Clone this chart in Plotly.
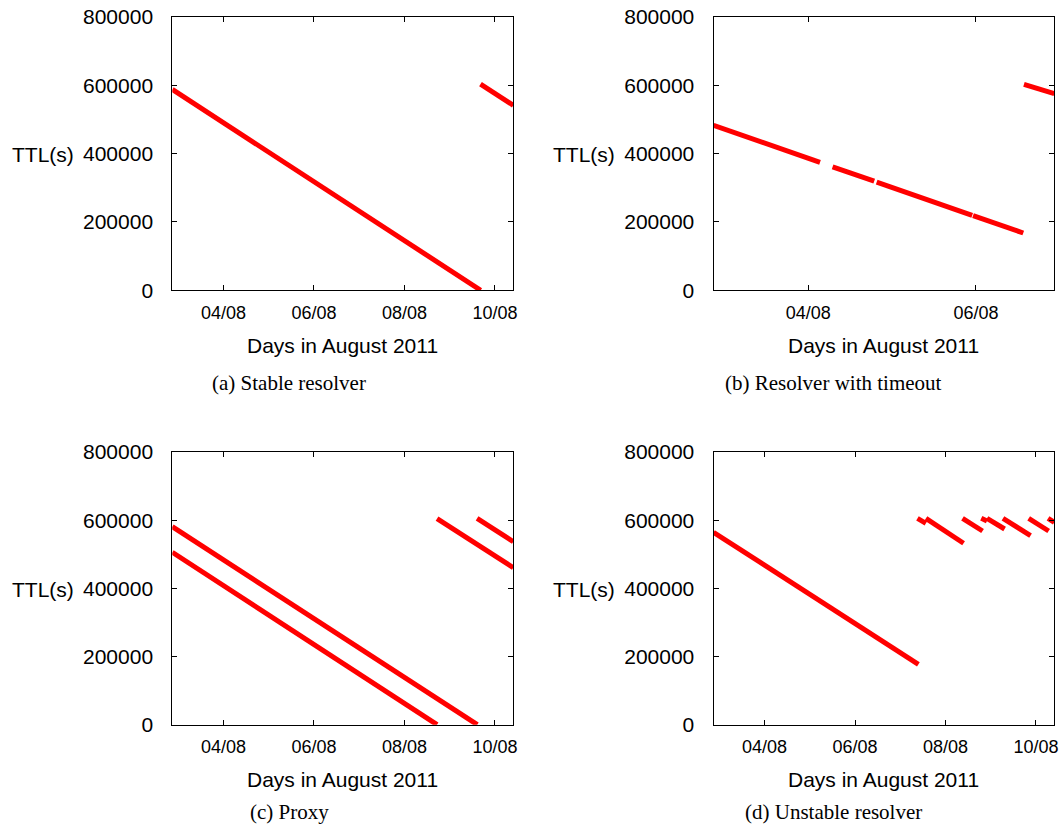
import plotly.graph_objects as go

# ---- data: segments of TTL decay (start time, end time, start TTL, end TTL) ----
a_start_t = ["2011-08-02 20:53", "2011-08-09 16:19"]
a_end_t   = ["2011-08-09 16:26", "2011-08-10 09:43"]
a_start_v = [588000, 603500]
a_end_v   = [0, 541500]

b_start_t = ["2011-08-02 20:53", "2011-08-04 06:58", "2011-08-04 19:35", "2011-08-05 23:10", "2011-08-06 13:44"]
b_end_t   = ["2011-08-04 03:22", "2011-08-04 18:53", "2011-08-05 22:55", "2011-08-06 13:32", "2011-08-06 22:25"]
b_start_v = [483000, 361600, 316800, 218700, 603000]
b_end_v   = [374400, 319300, 219600, 167700, 575700]

c_start_t = ["2011-08-02 20:53", "2011-08-02 20:53", "2011-08-08 17:17", "2011-08-09 14:31"]
c_end_t   = ["2011-08-09 14:38", "2011-08-08 17:17", "2011-08-10 09:43", "2011-08-10 09:43"]
c_start_v = [581000, 505700, 604300, 605500]
c_end_v   = [0, 0, 460600, 536900]

d_start_t = ["2011-08-02 20:53", "2011-08-07 09:07", "2011-08-07 13:35", "2011-08-08 09:01",
             "2011-08-08 18:58", "2011-08-08 22:00", "2011-08-09 06:29", "2011-08-09 20:07",
             "2011-08-10 06:24"]
d_end_t   = ["2011-08-07 09:36", "2011-08-07 13:35", "2011-08-08 09:34", "2011-08-08 19:39",
             "2011-08-08 22:00", "2011-08-09 07:21", "2011-08-09 21:07", "2011-08-10 06:43",
             "2011-08-10 09:43"]
d_start_v = [564400, 605500, 605500, 605500, 605500, 605500, 605500, 605500, 605500]
d_end_v   = [177200, 590800, 532200, 568200, 597500, 574100, 554400, 568200, 593700]

x_ticks_full = ["2011-08-04", "2011-08-06", "2011-08-08", "2011-08-10"]
x_labels_full = ["04/08", "06/08", "08/08", "10/08"]
x_ticks_b = ["2011-08-04", "2011-08-06"]
x_labels_b = ["04/08", "06/08"]
y_ticks = [0, 200000, 400000, 600000, 800000]
y_labels = ["0", "200000", "400000", "600000", "800000"]

range_full = ["2011-08-02 20:53", "2011-08-10 09:43"]
range_b = ["2011-08-02 20:53", "2011-08-06 22:25"]

x_title = "Days in August 2011"
y_title = "TTL(s)"
captions = ["(a) Stable resolver", "(b) Resolver with timeout", "(c) Proxy", "(d) Unstable resolver"]

# ---- layout geometry (pixels) ----
W, H = 1062, 830
panels = [
    dict(st=a_start_t, et=a_end_t, sv=a_start_v, ev=a_end_v, px=(172.3, 513.3), py=(17.0, 290.3),
         rng=range_full, tv=x_ticks_full, tt=x_labels_full),
    dict(st=b_start_t, et=b_end_t, sv=b_start_v, ev=b_end_v, px=(713.5, 1054.3), py=(17.0, 290.3),
         rng=range_b, tv=x_ticks_b, tt=x_labels_b),
    dict(st=c_start_t, et=c_end_t, sv=c_start_v, ev=c_end_v, px=(172.3, 513.3), py=(452.0, 724.7),
         rng=range_full, tv=x_ticks_full, tt=x_labels_full),
    dict(st=d_start_t, et=d_end_t, sv=d_start_v, ev=d_end_v, px=(713.5, 1054.3), py=(452.0, 724.7),
         rng=range_full, tv=x_ticks_full, tt=x_labels_full),
]
cap_pos = [(289, 383), (833, 383), (289, 812), (833, 812)]
ylab_x = [43, 584, 43, 584]

fig = go.Figure()
layout = dict(template="none", width=W, height=H, margin=dict(l=0, r=0, t=0, b=0, pad=0),
              autosize=False, paper_bgcolor="white", plot_bgcolor="white", showlegend=False)
annotations = []
sans = "Liberation Sans, Arial, sans-serif"
serif = "Liberation Serif, Times New Roman, serif"

for i, p in enumerate(panels):
    xs, ys = [], []
    for s, e, v0, v1 in zip(p["st"], p["et"], p["sv"], p["ev"]):
        xs += [s, e, None]
        ys += [v0, v1, None]
    n = "" if i == 0 else str(i + 1)
    fig.add_trace(go.Scatter(x=xs, y=ys, mode="lines", xaxis="x" + n, yaxis="y" + n,
                             line=dict(color="#ff0000", width=5), hoverinfo="skip"))
    xd = [p["px"][0] / W, p["px"][1] / W]
    yd = [1 - p["py"][1] / H, 1 - p["py"][0] / H]
    layout["xaxis" + n] = dict(domain=xd, anchor="y" + n, type="date", range=p["rng"],
                               tickvals=p["tv"], ticktext=p["tt"], ticks="inside", ticklen=5,
                               tickcolor="black", showline=True, linecolor="black", linewidth=1,
                               mirror="ticks", showgrid=False, zeroline=False, automargin=False,
                               tickfont=dict(family=sans, size=18, color="black"),
                               ticklabelstandoff=6)
    layout["yaxis" + n] = dict(domain=yd, anchor="x" + n, range=[0, 800000],
                               tickvals=y_ticks, ticktext=y_labels, ticks="inside", ticklen=5,
                               tickcolor="black", showline=True, linecolor="black", linewidth=1,
                               mirror="ticks", showgrid=False, zeroline=False, automargin=False,
                               tickfont=dict(family=sans, size=21, color="black"),
                               ticklabelstandoff=14)
    cx = (p["px"][0] + p["px"][1]) / 2
    annotations.append(dict(text=x_title, x=cx / W, y=1 - (p["py"][1] + 55) / H,
                            xref="paper", yref="paper", showarrow=False,
                            xanchor="center", yanchor="middle",
                            font=dict(family=sans, size=21, color="black")))
    annotations.append(dict(text=y_title, x=ylab_x[i] / W, y=1 - ((p["py"][0] + p["py"][1]) / 2 + 1) / H,
                            xref="paper", yref="paper", showarrow=False,
                            xanchor="center", yanchor="middle",
                            font=dict(family=sans, size=21, color="black")))
    annotations.append(dict(text=captions[i], x=cap_pos[i][0] / W, y=1 - cap_pos[i][1] / H,
                            xref="paper", yref="paper", showarrow=False,
                            xanchor="center", yanchor="middle",
                            font=dict(family=serif, size=21, color="black")))

layout["annotations"] = annotations
fig.update_layout(**layout)
fig.write_html("out.html", config={"displayModeBar": False},
               post_script="document.body.style.margin='0';document.body.style.overflow='hidden';")
